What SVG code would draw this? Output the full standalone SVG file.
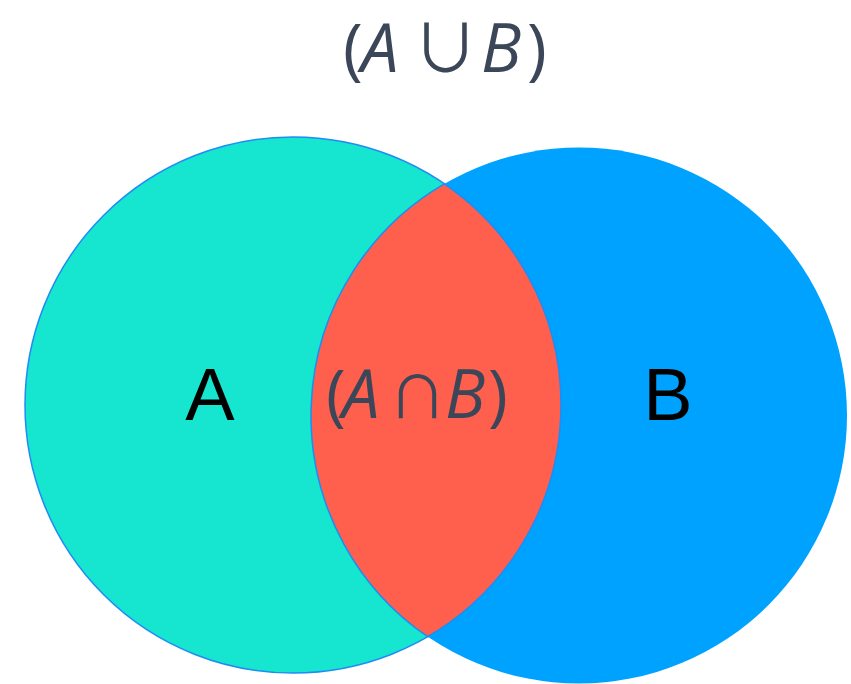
<svg xmlns="http://www.w3.org/2000/svg" width="851" height="684" viewBox="0 0 851 684">
  <style>
    .set { stroke: #1d8cf5; stroke-width: 1.5; }
    .set-a { fill: #16e6cf; }
    .set-b { fill: #00a2ff; stroke: none; }
    .lens { fill: #ff5f4d; stroke: #1d8cf5; stroke-width: 1.5; }
    .name { font-family: "Liberation Sans", Arial, sans-serif; font-size: 74px; fill: #000; text-anchor: middle; }
    .expr { font-family: "Open Sans", "DejaVu Sans", sans-serif; font-size: 67px; fill: #3b4758; }
    .var { font-style: italic; }
    .op { font-family: "Noto Sans CJK SC", "DejaVu Sans", sans-serif; }
  </style>

  <!-- set A -->
  <g id="set-a">
    <circle class="set set-a" cx="293" cy="405" r="268"/>
  </g>

  <!-- set B -->
  <g id="set-b">
    <circle class="set set-b" cx="579" cy="415.5" r="268"/>
  </g>

  <!-- overlap of A and B -->
  <g id="intersection">
    <path class="lens" d="M 444.3 183.8 A 268 268 0 0 0 427.7 636.7 A 268 268 0 0 0 444.3 183.8 Z"/>
  </g>

  <!-- labels -->
  <g id="labels">
    <text class="name" x="210" y="420">A</text>
    <text class="name" x="668" y="420">B</text>

    <text id="union-label" class="expr" y="72"><tspan x="343">(</tspan><tspan class="var" x="361">A</tspan><tspan class="op" x="445.5" text-anchor="middle" font-size="66">∪</tspan><tspan class="var" x="481">B</tspan><tspan x="527">)</tspan></text>

    <text id="intersection-label" class="expr" y="418"><tspan x="326">(</tspan><tspan class="var" x="342">A</tspan><tspan class="op" x="417.5" text-anchor="middle" font-size="58">∩</tspan><tspan class="var" x="445">B</tspan><tspan x="488">)</tspan></text>
  </g>
</svg>
